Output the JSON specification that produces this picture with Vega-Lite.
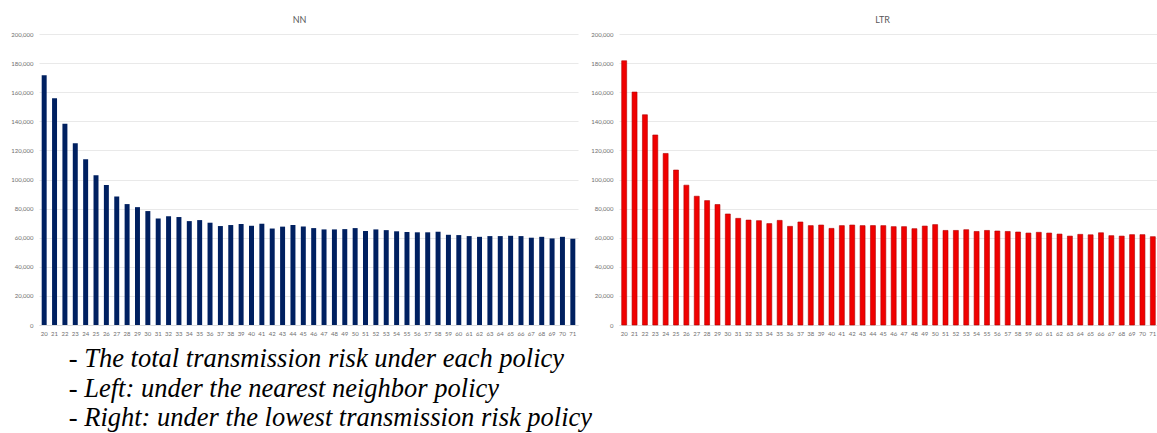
{
  "$schema": "https://vega.github.io/schema/vega-lite/v6.json",
  "background": "white",
  "padding": {"left": 10, "top": 16, "right": 0, "bottom": 0},
  "datasets": {
    "nn": [
      {"n": 20, "risk": 171600}, {"n": 21, "risk": 155800}, {"n": 22, "risk": 138400}, {"n": 23, "risk": 124900},
      {"n": 24, "risk": 113900}, {"n": 25, "risk": 103000}, {"n": 26, "risk": 96200}, {"n": 27, "risk": 88300},
      {"n": 28, "risk": 83100}, {"n": 29, "risk": 81000}, {"n": 30, "risk": 78300}, {"n": 31, "risk": 73200},
      {"n": 32, "risk": 74800}, {"n": 33, "risk": 74200}, {"n": 34, "risk": 71400}, {"n": 35, "risk": 72100},
      {"n": 36, "risk": 70300}, {"n": 37, "risk": 68000}, {"n": 38, "risk": 68700}, {"n": 39, "risk": 69400},
      {"n": 40, "risk": 68200}, {"n": 41, "risk": 69600}, {"n": 42, "risk": 66300}, {"n": 43, "risk": 67600},
      {"n": 44, "risk": 68800}, {"n": 45, "risk": 67700}, {"n": 46, "risk": 66600}, {"n": 47, "risk": 65700},
      {"n": 48, "risk": 65700}, {"n": 49, "risk": 65900}, {"n": 50, "risk": 66600}, {"n": 51, "risk": 64600},
      {"n": 52, "risk": 65700}, {"n": 53, "risk": 65200}, {"n": 54, "risk": 64400}, {"n": 55, "risk": 63900},
      {"n": 56, "risk": 63700}, {"n": 57, "risk": 63700}, {"n": 58, "risk": 64100}, {"n": 59, "risk": 62000},
      {"n": 60, "risk": 61800}, {"n": 61, "risk": 61100}, {"n": 62, "risk": 60600}, {"n": 63, "risk": 61100},
      {"n": 64, "risk": 61100}, {"n": 65, "risk": 61300}, {"n": 66, "risk": 61100}, {"n": 67, "risk": 60000},
      {"n": 68, "risk": 60600}, {"n": 69, "risk": 59500}, {"n": 70, "risk": 60600}, {"n": 71, "risk": 59300}
    ],
    "ltr": [
      {"n": 20, "risk": 181600}, {"n": 21, "risk": 160100}, {"n": 22, "risk": 144500}, {"n": 23, "risk": 130600},
      {"n": 24, "risk": 117900}, {"n": 25, "risk": 106500}, {"n": 26, "risk": 96100}, {"n": 27, "risk": 88500},
      {"n": 28, "risk": 85500}, {"n": 29, "risk": 82800}, {"n": 30, "risk": 76300}, {"n": 31, "risk": 73300},
      {"n": 32, "risk": 72100}, {"n": 33, "risk": 71700}, {"n": 34, "risk": 69700}, {"n": 35, "risk": 71900},
      {"n": 36, "risk": 67800}, {"n": 37, "risk": 70800}, {"n": 38, "risk": 68300}, {"n": 39, "risk": 68700},
      {"n": 40, "risk": 66400}, {"n": 41, "risk": 68300}, {"n": 42, "risk": 68700}, {"n": 43, "risk": 68300},
      {"n": 44, "risk": 68300}, {"n": 45, "risk": 68300}, {"n": 46, "risk": 67600}, {"n": 47, "risk": 67600},
      {"n": 48, "risk": 66200}, {"n": 49, "risk": 68000}, {"n": 50, "risk": 69000}, {"n": 51, "risk": 65000},
      {"n": 52, "risk": 65000}, {"n": 53, "risk": 65500}, {"n": 54, "risk": 64300}, {"n": 55, "risk": 65000},
      {"n": 56, "risk": 64600}, {"n": 57, "risk": 64300}, {"n": 58, "risk": 63900}, {"n": 59, "risk": 63200},
      {"n": 60, "risk": 63700}, {"n": 61, "risk": 63200}, {"n": 62, "risk": 62500}, {"n": 63, "risk": 61100},
      {"n": 64, "risk": 62300}, {"n": 65, "risk": 62000}, {"n": 66, "risk": 63400}, {"n": 67, "risk": 61400},
      {"n": 68, "risk": 61100}, {"n": 69, "risk": 62100}, {"n": 70, "risk": 62100}, {"n": 71, "risk": 60700}
    ]
  },
  "title": {
    "text": [
      "\u00a0- The total transmission risk under each policy",
      "- Left: under the nearest neighbor policy",
      "- Right: under the lowest transmission risk policy"
    ],
    "orient": "bottom",
    "anchor": "start",
    "frame": "bounds",
    "font": "Liberation Serif",
    "fontStyle": "italic",
    "fontWeight": "normal",
    "fontSize": 26.5,
    "lineHeight": 29.5,
    "color": "black",
    "dx": 58,
    "offset": 10
  },
  "spacing": 12,
  "hconcat": [
    {
      "data": {"name": "nn"},
      "width": 539,
      "height": 291,
      "title": {"text": "NN", "dx": -9},
      "mark": {"type": "bar", "color": "#002060"},
      "encoding": {
        "x": {"field": "n", "type": "ordinal", "title": null,
              "scale": {"paddingInner": 0.52, "paddingOuter": 0.26}},
        "y": {"field": "risk", "type": "quantitative", "title": null,
              "scale": {"domain": [0, 200000], "nice": false},
              "axis": {"format": ",d",
                       "values": [0, 20000, 40000, 60000, 80000, 100000, 120000, 140000, 160000, 180000, 200000]}}
      }
    },
    {
      "data": {"name": "ltr"},
      "width": 539,
      "height": 291,
      "title": {"text": "LTR", "dx": -6},
      "mark": {"type": "bar", "color": "#f00000", "stroke": "#b00000", "strokeWidth": 0.6},
      "encoding": {
        "x": {"field": "n", "type": "ordinal", "title": null,
              "scale": {"paddingInner": 0.52, "paddingOuter": 0.26}},
        "y": {"field": "risk", "type": "quantitative", "title": null,
              "scale": {"domain": [0, 200000], "nice": false},
              "axis": {"format": ",d",
                       "values": [0, 20000, 40000, 60000, 80000, 100000, 120000, 140000, 160000, 180000, 200000]}}
      }
    }
  ],
  "config": {
    "font": "Lato",
    "view": {"stroke": null},
    "title": {"fontSize": 9, "fontWeight": "normal", "color": "#595959", "offset": 6, "font": "Lato"},
    "axisY": {
      "domain": false,
      "ticks": false,
      "labelFontSize": 6,
      "labelColor": "#6f6f6f",
      "labelPadding": 6,
      "gridColor": "#e3e3e3",
      "gridWidth": 0.8
    },
    "axisX": {
      "labelAngle": 0,
      "ticks": false,
      "domainColor": "#d9d9d9",
      "domainWidth": 0.8,
      "labelFontSize": 6,
      "labelColor": "#6f6f6f",
      "labelPadding": 5
    }
  }
}
